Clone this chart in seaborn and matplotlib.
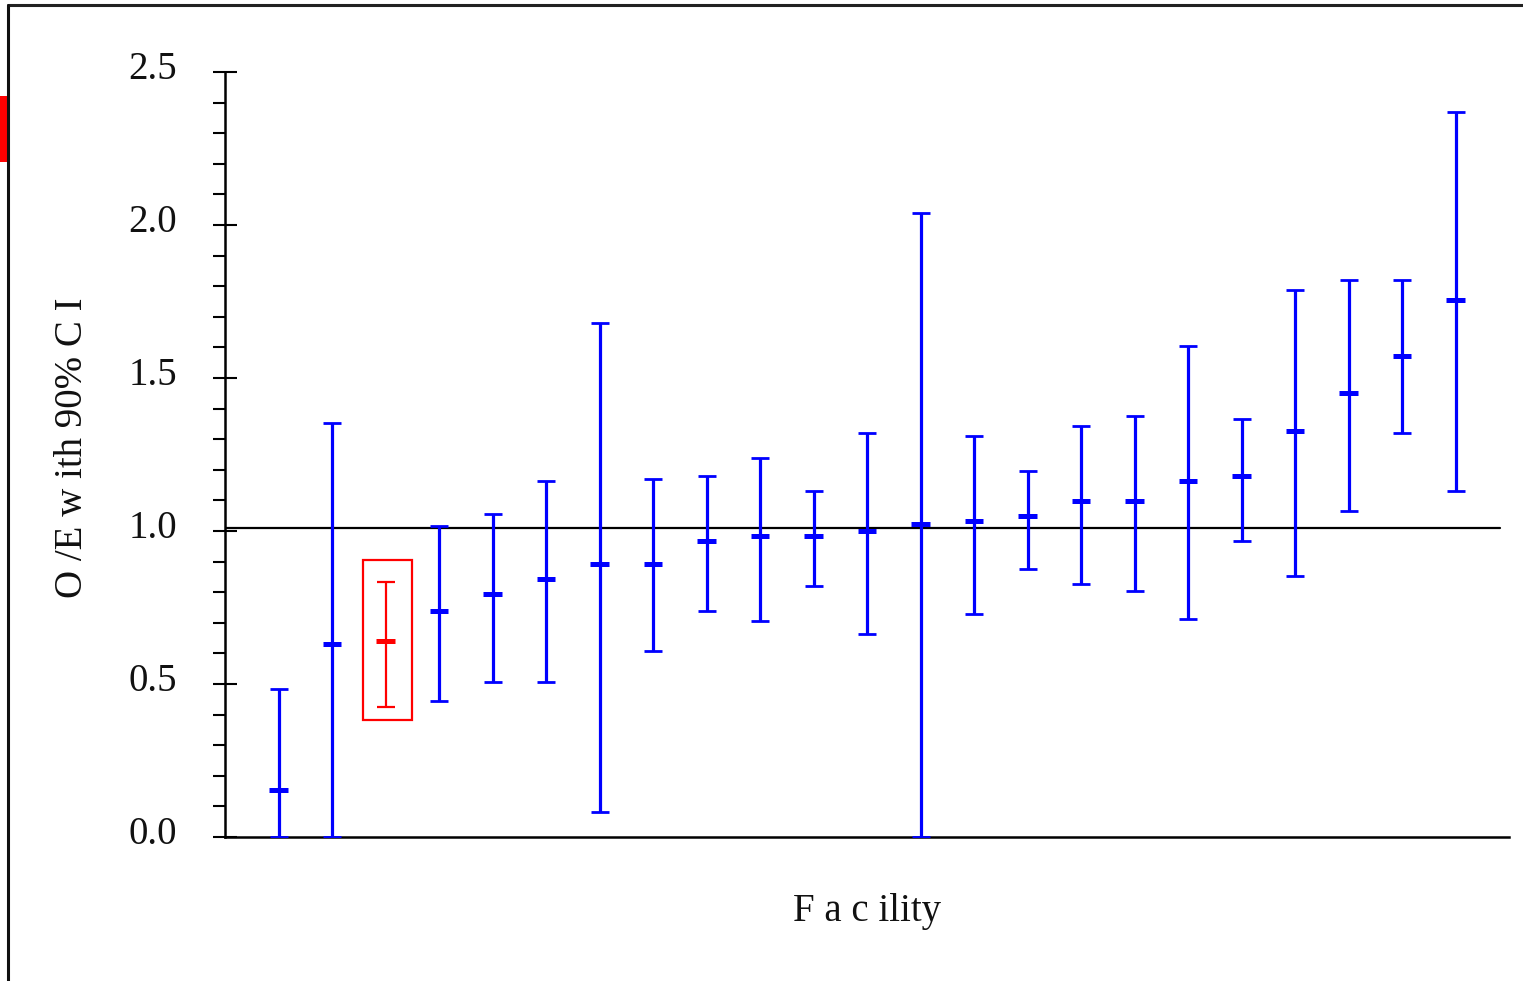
import matplotlib
matplotlib.use("Agg")
import matplotlib.pyplot as plt
from matplotlib.lines import Line2D
from matplotlib.patches import Rectangle
from matplotlib.ticker import MultipleLocator, FormatStrFormatter
from matplotlib.transforms import ScaledTranslation
import numpy as np
import pandas as pd
import seaborn as sns

# ---- data ----
facility = list(range(1, 24))
oe = [0.154, 0.631, 0.640, 0.738, 0.795, 0.843, 0.893, 0.893, 0.967, 0.984, 0.984,
      1.001, 1.024, 1.033, 1.049, 1.098, 1.098, 1.163, 1.180, 1.328, 1.450, 1.573, 1.754]
ci_low = [0.0, 0.0, 0.426, 0.443, 0.508, 0.508, 0.082, 0.607, 0.738, 0.705, 0.820,
          0.664, 0.0, 0.730, 0.877, 0.827, 0.803, 0.712, 0.967, 0.852, 1.065, 1.319, 1.131]
ci_high = [0.483, 1.353, 0.834, 1.016, 1.057, 1.163, 1.680, 1.171, 1.180, 1.238, 1.132,
           1.319, 2.040, 1.311, 1.196, 1.344, 1.377, 1.606, 1.367, 1.788, 1.819, 1.819, 2.368]
highlight = 3          # facility drawn in red
ref_value = 1.01
y_label = "O /E w ith 90% C I"
x_label = "F a c ility"

df = pd.DataFrame({"facility": facility, "oe": oe, "low": ci_low, "high": ci_high})
df["group"] = np.where(df["facility"] == highlight, "highlight", "other")

sns.set_theme(style="white")
plt.rcParams["font.family"] = ["Liberation Serif", "DejaVu Serif"]

W, H = 1523, 981
fig = plt.figure(figsize=(W / 100, H / 100), dpi=100)
ax = fig.add_axes([225 / W, 1 - 837 / H, (1509 - 225) / W, (837 - 72) / H])

blue = "#0000FF"
red = "#FF0000"

others = df[df["group"] == "other"]
hl = df[df["group"] == "highlight"]

# whiskers
ax.errorbar(others["facility"], others["oe"],
            yerr=[others["oe"] - others["low"], others["high"] - others["oe"]],
            fmt="none", ecolor=blue, elinewidth=2.3, capsize=6.5, capthick=2.0, zorder=3)
ax.errorbar(hl["facility"], hl["oe"],
            yerr=[hl["oe"] - hl["low"], hl["high"] - hl["oe"]],
            fmt="none", ecolor=red, elinewidth=1.6, capsize=6.5, capthick=1.6, zorder=3)

# centre marks
sns.scatterplot(data=df, x="facility", y="oe", hue="group",
                palette={"other": blue, "highlight": red},
                marker="_", s=170, linewidth=3.6, legend=False, ax=ax, zorder=4)

# highlight box
hx = hl["facility"].iloc[0]
ax.add_patch(Rectangle((hx - 0.42, hl["low"].iloc[0] - 0.045), 0.92,
                       (hl["high"].iloc[0] - hl["low"].iloc[0]) + 0.115,
                       fill=False, edgecolor=red, linewidth=1.6, zorder=2))

# reference line
ax.plot([0, 23.83], [ref_value, ref_value], color="black", linewidth=1.6, zorder=1)

ax.set_xlim(0, 24)
ax.set_ylim(0, 2.5)
ax.set_xticks([])
ax.yaxis.set_major_locator(MultipleLocator(0.5))
ax.yaxis.set_minor_locator(MultipleLocator(0.1))
ax.yaxis.set_major_formatter(FormatStrFormatter("%.1f"))
ax.tick_params(axis="y", which="major", direction="inout", length=17, width=1.5,
               color="black", labelsize=28, pad=26, left=True, labelcolor="#111111")
ax.tick_params(axis="y", which="minor", direction="out", length=8.6, width=1.5,
               color="black", left=True)

for side in ["top", "right"]:
    ax.spines[side].set_visible(False)
for side in ["left", "bottom"]:
    ax.spines[side].set_color("black")
    ax.spines[side].set_linewidth(1.8)

ax.set_xlabel(x_label, fontsize=28, labelpad=40, color="#111111")
ax.set_ylabel(y_label, fontsize=28, color="#111111")
ax.yaxis.set_label_coords((91 - 225) / 1284, (837 - 448) / 765)
ax.grid(False)

# nudge y tick labels up slightly (as in the reference)
fig.canvas.draw()
shift = ScaledTranslation(0, 7 / 100, fig.dpi_scale_trans)
for tick in ax.yaxis.get_major_ticks():
    tick.label1.set_transform(tick.label1.get_transform() + shift)

# figure frame decorations
fig.add_artist(Line2D([8 / W, 1], [1 - 5 / H, 1 - 5 / H], transform=fig.transFigure,
                      color="#222222", linewidth=2.2))
fig.add_artist(Line2D([8 / W, 8 / W], [0, 1 - 5 / H], transform=fig.transFigure,
                      color="#111111", linewidth=2.2))
fig.add_artist(Rectangle((0, 1 - 162 / H), 7 / W, 66 / H, transform=fig.transFigure,
                         facecolor=red, edgecolor="none"))

fig.savefig("out.png", dpi=100)
